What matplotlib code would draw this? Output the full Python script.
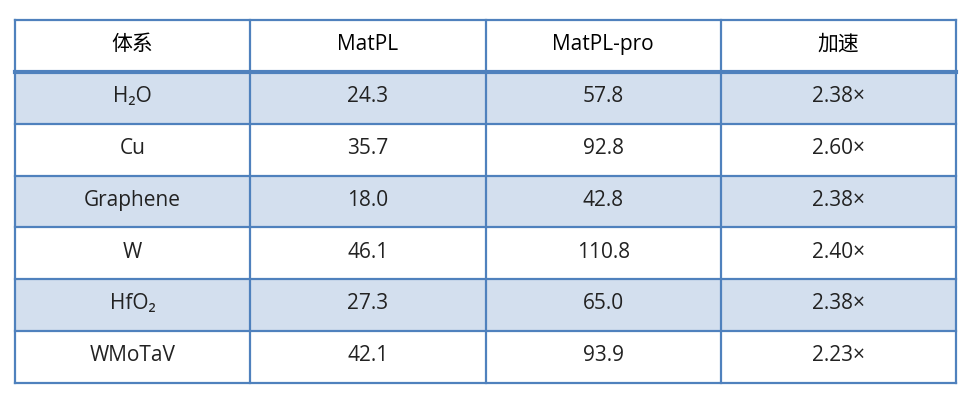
import matplotlib
matplotlib.use("Agg")
import matplotlib.pyplot as plt
from matplotlib.patches import Rectangle

plt.rcParams['font.family'] = ['Open Sans', 'Noto Sans CJK SC', 'DejaVu Sans']

# Data
headers = ["体系", "MatPL", "MatPL-pro", "加速"]
systems = ["H₂O", "Cu", "Graphene", "W", "HfO₂", "WMoTaV"]
matpl = [24.3, 35.7, 18.0, 46.1, 27.3, 42.1]
matpl_pro = [57.8, 92.8, 42.8, 110.8, 65.0, 93.9]
speedup = [2.38, 2.60, 2.38, 2.40, 2.38, 2.23]

border = "#4F81BD"
band = "#D3DFEE"

fig = plt.figure(figsize=(9.72, 4.01), dpi=100)
ax = fig.add_axes([15 / 972, 18 / 401, 941 / 972, 363 / 401])
n_rows = len(systems) + 1
n_cols = len(headers)
ax.set_xlim(0, n_cols)
ax.set_ylim(n_rows, 0)
ax.axis("off")

rows = [[s, f"{a:.1f}", f"{b:.1f}", f"{c:.2f}×"]
        for s, a, b, c in zip(systems, matpl, matpl_pro, speedup)]

# banded rows
for i in range(len(rows)):
    if i % 2 == 0:
        ax.add_patch(Rectangle((0, i + 1), n_cols, 1, facecolor=band,
                               edgecolor="none", zorder=0))

# header text
for j, h in enumerate(headers):
    ax.text(j + 0.5, 0.57, h, ha="center", va="baseline", fontsize=15,
            color="black")

# body text
for i, r in enumerate(rows):
    for j, val in enumerate(r):
        ax.text(j + 0.5, i + 1.58, val, ha="center", va="baseline",
                fontsize=15, color="#222222")

# grid lines
for i in range(n_rows + 1):
    lw = 3 if i == 1 else 1.6
    ax.plot([0, n_cols], [i, i], color=border, lw=lw, clip_on=False,
            solid_capstyle="projecting")
for j in range(n_cols + 1):
    ax.plot([j, j], [0, n_rows], color=border, lw=1.6, clip_on=False,
            solid_capstyle="projecting")

fig.savefig("out.png", dpi=100, facecolor="white")
